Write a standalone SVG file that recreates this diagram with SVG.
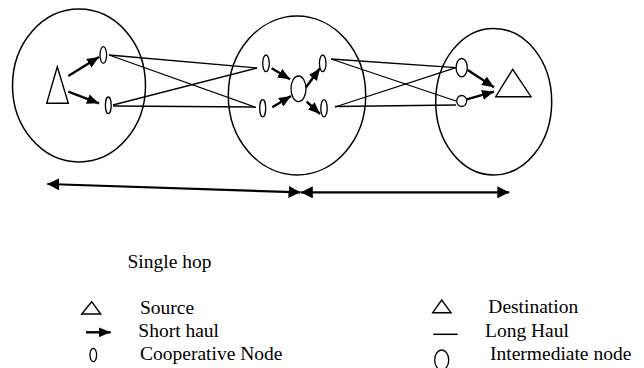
<svg xmlns="http://www.w3.org/2000/svg" width="644" height="368" viewBox="0 0 644 368">
<style>
.region{fill:none;stroke:#000;stroke-width:1.5}
.coop{fill:#fff;stroke:#000;stroke-width:1.3}
.tri{fill:#fff;stroke:#000;stroke-width:1.4;stroke-linejoin:miter}
.long{stroke:#000;stroke-width:1.3;fill:none}
.short{stroke:#000;stroke-width:2.4;fill:none;marker-end:url(#ah)}
.span{stroke:#000;stroke-width:2.2;fill:none;marker-start:url(#bh);marker-end:url(#bh)}
.lbl{font-family:'Liberation Serif','DejaVu Serif',serif;font-size:19.5px;fill:#000}
</style>
<defs>
<marker id="ah" markerUnits="userSpaceOnUse" viewBox="0 0 12 10" refX="12" refY="5" markerWidth="12" markerHeight="10" orient="auto">
<path d="M0,0 L12,5 L0,10 z" fill="#000"/>
</marker>
<marker id="bh" markerUnits="userSpaceOnUse" viewBox="0 0 12 12" refX="12" refY="6" markerWidth="12" markerHeight="12" orient="auto-start-reverse">
<path d="M0,0 L12,6 L0,12 z" fill="#000"/>
</marker>
</defs>
<g id="region-source"><ellipse class="region" cx="79" cy="85.5" rx="66.5" ry="76.5"/></g>
<g id="region-intermediate"><ellipse class="region" cx="297" cy="95.5" rx="68.7" ry="79.5"/></g>
<g id="region-destination"><ellipse class="region" cx="493.7" cy="101.7" rx="58" ry="73.3"/></g>
<g id="connectors">
<line class="long" x1="109" y1="55" x2="257" y2="68"/>
<line class="long" x1="109" y1="55" x2="256" y2="107.5"/>
<line class="long" x1="113" y1="105" x2="257" y2="68"/>
<line class="long" x1="113" y1="106" x2="256" y2="107"/>
<line class="long" x1="331" y1="59" x2="456" y2="67.7"/>
<line class="long" x1="331" y1="59" x2="456" y2="101"/>
<line class="long" x1="335" y1="107" x2="456" y2="67.7"/>
<line class="long" x1="335" y1="106.5" x2="456" y2="105"/>
<line class="short" x1="68.3" y1="76" x2="99" y2="57"/>
<line class="short" x1="68.3" y1="91.7" x2="99" y2="103.3"/>
<line class="short" x1="271.7" y1="68.3" x2="290" y2="79.3"/>
<line class="short" x1="272.3" y1="107.3" x2="291" y2="96"/>
<line class="short" x1="306" y1="87.3" x2="320" y2="68.3"/>
<line class="short" x1="306.7" y1="101.7" x2="320" y2="114"/>
<line class="short" x1="467.7" y1="70" x2="494" y2="87.3"/>
<line class="short" x1="466.7" y1="99.3" x2="494" y2="91.7"/>
<line class="span" x1="47.3" y1="184" x2="300.5" y2="192.3"/>
<line class="span" x1="300.8" y1="192.3" x2="509.3" y2="192.3"/>
</g>
<g id="source"><polygon class="tri" points="57.3,66.7 46.7,103.3 68.3,103.3"/></g>
<g id="coop-l1"><ellipse class="coop" cx="103.3" cy="55" rx="3.3" ry="8.3"/></g>
<g id="coop-l2"><ellipse class="coop" cx="108.3" cy="105.3" rx="2.9" ry="8.3"/></g>
<g id="coop-m1"><ellipse class="coop" cx="266" cy="63.3" rx="3.3" ry="8.3"/></g>
<g id="coop-m2"><ellipse class="coop" cx="262.7" cy="108.3" rx="3" ry="8.6"/></g>
<g id="intermediate"><ellipse class="coop" cx="298.5" cy="88.8" rx="7.5" ry="12.8"/></g>
<g id="coop-m3"><ellipse class="coop" cx="322.7" cy="63.3" rx="3.3" ry="8.3"/></g>
<g id="coop-m4"><ellipse class="coop" cx="324" cy="108.3" rx="3.2" ry="8.6"/></g>
<g id="coop-r1"><ellipse class="coop" cx="461.7" cy="67.7" rx="5.6" ry="9.2"/></g>
<g id="coop-r2"><ellipse class="coop" cx="461.7" cy="101" rx="5" ry="5.5"/></g>
<g id="destination"><polygon class="tri" points="512.7,69.3 495.7,96.7 531,96.7"/></g>
<g id="legend">
<text class="lbl" font-family="Liberation Serif, DejaVu Serif, serif" x="127.5" y="268.3">Single hop</text>
<polygon class="tri" points="91.7,301.7 81.7,314 100.7,314"/>
<text class="lbl" font-family="Liberation Serif, DejaVu Serif, serif" x="140" y="314">Source</text>
<line class="short" x1="86" y1="332.3" x2="110.7" y2="332.3"/>
<text class="lbl" font-family="Liberation Serif, DejaVu Serif, serif" x="138.3" y="336.7">Short haul</text>
<ellipse class="coop" cx="93.3" cy="355" rx="3.3" ry="6.7"/>
<text class="lbl" font-family="Liberation Serif, DejaVu Serif, serif" x="140" y="360">Cooperative Node</text>
<polygon class="tri" points="441.7,300 432.7,312.7 451,312.7"/>
<text class="lbl" font-family="Liberation Serif, DejaVu Serif, serif" x="488.3" y="313.3">Destination</text>
<line class="long" x1="433.3" y1="334.3" x2="457.7" y2="334.3" style="stroke-width:1.5"/>
<text class="lbl" font-family="Liberation Serif, DejaVu Serif, serif" x="485" y="336.7">Long Haul</text>
<ellipse class="coop" cx="441.7" cy="360" rx="7" ry="10"/>
<text class="lbl" font-family="Liberation Serif, DejaVu Serif, serif" x="490" y="360">Intermediate node</text>
</g>
</svg>
